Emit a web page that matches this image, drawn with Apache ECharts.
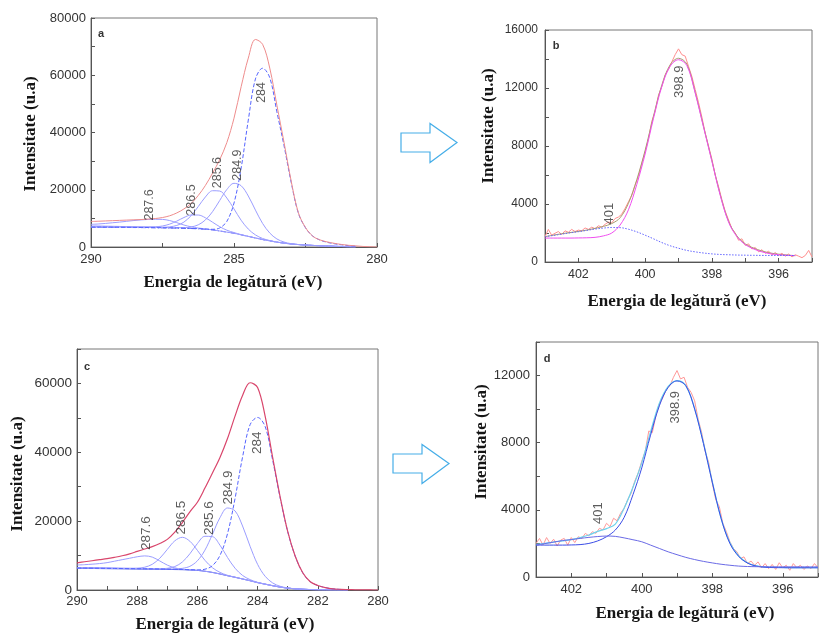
<!DOCTYPE html>
<html>
<head>
<meta charset="utf-8">
<script src="https://cdn.jsdelivr.net/npm/echarts@6/dist/echarts.min.js"></script>
<style>
html,body{margin:0;padding:0;background:#fff;}
#chart{width:821px;height:637px;}
</style>
</head>
<body>
<div id="chart"></div>
<script>
// ---------- C 1s panels (a, c): binding energy grid ----------
const carbonEnergy = [290,289.75,289.5,289.25,289,288.75,288.5,288.25,288,287.75,287.5,287.25,287,286.75,286.5,286.25,286,285.75,285.5,285.25,285,284.75,284.5,284.25,284,283.75,283.5,283.25,283,282.75,282.5,282.25,282,281.75,281.5,281.25,281,280.75,280.5,280.25,280];

// panel a
const aEnvelope = [8900,9000,9100,9200,9300,9400,9500,9600,9750,9950,10300,10900,11900,13300,15200,18000,21500,25800,30500,36500,45000,56000,66000,72500,70800,62500,49500,36500,23000,12000,6800,3800,2500,1800,1300,900,600,400,200,80,0];
const aBackground = [6900,6890,6880,6865,6850,6825,6800,6775,6750,6715,6680,6640,6600,6530,6450,6350,6200,5950,5600,5200,4800,4250,3700,3150,2600,2150,1700,1350,1050,850,700,550,450,350,250,170,100,50,null,null,null];
const aPeak284 = [6950,6940,6930,6915,6900,6875,6850,6825,6800,6765,6730,6690,6650,6580,6500,6410,6280,6180,6650,8950,15360,27600,44340,58710,62450,59150,47200,35350,22550,11850,6700,3850,2450,1650,1150,770,500,300,null,null,null];
const aPeak2849 = [7000,6990,6980,6965,6950,6925,6900,6875,6850,6815,6780,6740,6740,6750,6990,7750,9450,12350,16250,20090,22250,21400,17810,12885,8230,4880,2806,1727,1156,875,700,550,450,350,250,170,100,50,null,null,null];
const aPeak2856 = [7100,7090,7080,7065,7050,7025,7000,6975,6950,6935,6915,7040,7534,8710,10950,14130,17480,19660,19550,17100,13300,9340,6260,4225,2980,2262,1725,1350,1050,850,700,550,450,350,250,170,100,50,null,null,null];
const aPeak2865 = [7350,7320,7280,7235,7180,7115,7050,6995,7010,7060,7340,7990,9050,10300,11170,11170,10210,8660,7100,5870,5045,4324,3715,3150,2600,2150,1700,1350,1050,850,700,550,450,350,250,170,100,50,null,null,null];
const aPeak2876 = [7900,8040,8230,8465,8700,8975,9250,9475,9630,9695,9640,9240,8500,7680,7050,6630,6320,6000,5600,5200,4800,4250,3700,3150,2600,2150,1700,1350,1050,850,700,550,450,350,250,170,100,50,null,null,null];
const aPeakNames = ['287.6','286.5','285.6','284.9','284'];
const aPeakAnchors = [[287.97,14700],[286.47,16400],[285.58,26000],[284.86,28600],[284.04,54000]];

// panel c
const cEnvelope = [7900,8200,8500,8800,9100,9500,9950,10500,11200,11900,12600,13500,14700,16800,19600,22700,25500,29600,34000,38500,44000,50500,56500,60200,58800,50500,38500,27000,17000,9800,5000,2400,1300,700,350,200,120,60,30,10,0];
const cBackground = [6300,6275,6250,6225,6200,6175,6150,6125,6100,6075,6050,6015,5980,5940,5900,5820,5700,5450,5100,4650,4150,3700,3200,2700,2150,1700,1250,850,550,350,220,130,80,50,30,15,0,null,null,null,null];
const cPeak284 = [6380,6355,6330,6305,6280,6255,6230,6205,6180,6155,6130,6095,6060,6020,5980,5900,5850,6040,7070,10040,16350,26560,38590,48010,50110,47500,37700,26750,16950,9800,5000,2400,1300,700,350,165,60,null,null,null,null];
const cPeak2849 = [6400,6375,6350,6325,6300,6275,6250,6225,6200,6175,6150,6115,6080,6113,6290,6880,8480,11570,16180,21010,23820,22980,18590,12700,7450,3990,2050,1080,605,360,220,130,80,50,30,15,0,null,null,null,null];
const cPeak2856 = [6450,6425,6400,6375,6350,6325,6300,6275,6250,6225,6210,6190,6300,6810,8130,10520,13490,15600,15500,13020,9450,6340,4230,3018,2227,1700,1250,850,550,350,220,130,80,50,30,15,0,null,null,null,null];
const cPeak2865 = [6550,6515,6480,6440,6400,6355,6310,6300,6340,6619,7470,9215,11790,14280,15300,14160,11510,8630,6470,5114,4274,3726,3200,2700,2150,1700,1250,850,550,350,220,130,80,50,30,15,0,null,null,null,null];
const cPeak2876 = [7250,7355,7500,7675,7950,8375,8800,9225,9650,9905,9560,8435,7232,6427,6042,5851,5700,5450,5100,4650,4150,3700,3200,2700,2150,1700,1250,850,550,350,220,130,80,50,30,15,0,null,null,null,null];
const cPeakNames = ['287.6','286.5','285.6','284.9','284'];
const cPeakAnchors = [[287.7,16550],[286.53,21050],[285.6,20900],[284.98,29770],[284.02,42800]];

// ---------- N 1s panels (b, d) ----------
const nitrogenEnergy = [403,402.75,402.5,402.25,402,401.75,401.5,401.25,401,400.75,400.5,400.25,400,399.75,399.5,399.25,399,398.75,398.5,398.25,398,397.75,397.5,397.25,397,396.75,396.5,396.25,396,395.75,395.5,395.25,395];
const nitrogenRawEnergy = [403.0,402.9,402.8,402.7,402.6,402.5,402.4,402.3,402.2,402.1,402.0,401.9,401.8,401.7,401.6,401.5,401.4,401.3,401.2,401.1,401.0,400.9,400.8,400.7,400.6,400.5,400.4,400.3,400.2,400.1,400.0,399.9,399.8,399.7,399.6,399.5,399.4,399.3,399.2,399.1,399.0,398.9,398.8,398.7,398.6,398.5,398.4,398.3,398.2,398.1,398.0,397.9,397.8,397.7,397.6,397.5,397.4,397.3,397.2,397.1,397.0,396.9,396.8,396.7,396.6,396.5,396.4,396.3,396.2,396.1,396.0,395.9,395.8,395.7,395.6,395.5,395.4,395.3,395.2,395.1,395.0];

// panel b
const bRaw = [1750,2250,1850,1980,2100,1900,2150,2050,2250,2100,2200,2150,2350,2250,2400,2300,2500,2400,2600,2750,2700,3000,3100,3300,3700,4150,4600,5300,5900,6800,7600,8500,9700,10400,11500,12100,12900,13300,13800,14300,14700,14300,14200,13500,12800,11900,11000,10000,8900,8000,7100,6000,5200,4300,3500,2900,2300,2000,1500,1600,1150,1250,900,1000,700,850,600,750,500,650,450,600,400,550,350,500,400,300,450,800,350];
const bEnvelope = [1750,1850,1950,2030,2110,2200,2320,2455,2650,3050,4050,5680,7700,10050,12200,13600,14050,13650,11700,9350,7000,4650,2800,1800,1250,960,760,620,540,480,440,null,null];
const bPeak3989 = [1650,1650,1650,1650,1660,1670,1700,1800,2000,2550,3600,5350,7450,9900,12100,13500,13950,13550,11650,9300,6950,4600,2750,1750,1200,900,700,570,500,460,440,null,null];
const bPeak401 = [1750,1830,1920,2010,2090,2180,2270,2340,2380,2370,2260,2080,1850,1600,1340,1120,950,800,700,620,560,520,500,480,470,460,455,450,450,450,445,null,null];
const bPeakNames = ['401','398.9'];
const bPeakAnchors = [[401.08,3330],[398.98,12430]];

// panel d
const dRaw = [2000,2300,1900,2350,2000,2250,1850,2200,2300,1900,2350,2050,2400,2300,2600,2450,2700,2600,2900,2800,3200,3000,3500,3350,3800,4100,4600,5000,5700,6200,6900,7500,8700,8600,9600,10300,10700,11200,11400,11900,12300,11800,11900,11300,11000,10500,9400,8600,7500,6800,5600,4600,4200,3200,2700,2100,1700,1500,1100,1200,800,950,700,900,550,800,500,750,450,850,550,700,400,800,550,700,450,650,500,800,550];
const dEnvelope = [1950,2000,2080,2150,2230,2350,2500,2720,2880,3150,4100,5350,6800,8650,10350,11350,11700,11400,10050,8000,5700,3500,2050,1250,850,660,590,570,565,560,560,560,560];
const dPeak3989 = [1900,1900,1900,1900,1910,1930,2000,2150,2400,2800,3550,4900,6500,8450,10200,11300,11680,11400,10000,7950,5650,3500,2000,1230,830,650,580,560,555,550,550,550,550];
const dPeak401 = [1900,1990,2080,2170,2230,2300,2360,2410,2440,2420,2330,2220,2100,1900,1700,1500,1330,1170,1040,930,840,760,700,650,625,615,610,605,605,605,605,605,605];
const dPeakNames = ['398.9','401'];
const dPeakAnchors = [[399.04,10110],[401.24,3800]];

// axis texts
const yTitle = 'Intensitate (u.a)';
const xTitle = 'Energia de legătură (eV)';
const panelLetters = ['a','b','c','d'];

// ---------- helpers ----------
function zip(xs, ys) { return xs.map((x, i) => [x, ys[i]]); }

function xAx(gi, min, max, interval, every, fs, margin) {
  return {
    type: 'value', gridIndex: gi, min, max, interval, inverse: true,
    axisLine: { show: true, onZero: false, lineStyle: { color: '#555', width: 1 } },
    axisTick: { show: true, inside: true, length: 4, lineStyle: { color: '#555' } },
    axisLabel: {
      margin, fontSize: fs, color: '#333', fontFamily: 'Liberation Sans',
      formatter: v => (Math.abs(v / every - Math.round(v / every)) < 1e-6 ? String(v) : '')
    },
    splitLine: { show: false }
  };
}
function yAx(gi, min, max, interval, every, fs, margin) {
  return {
    type: 'value', gridIndex: gi, min, max, interval,
    axisLine: { show: true, onZero: false, lineStyle: { color: '#555', width: 1 } },
    axisTick: { show: true, inside: true, length: 4, lineStyle: { color: '#555' } },
    axisLabel: {
      margin, fontSize: fs, color: '#333', fontFamily: 'Liberation Sans',
      formatter: v => (Math.abs(v / every - Math.round(v / every)) < 1e-6 ? String(v) : '')
    },
    splitLine: { show: false }
  };
}
function curve(gi, xs, ys, color, opts) {
  opts = opts || {};
  return {
    type: 'line', xAxisIndex: gi, yAxisIndex: gi, data: zip(xs, ys),
    showSymbol: false, symbol: 'none', smooth: opts.smooth === undefined ? 0.35 : opts.smooth,
    connectNulls: false, silent: true, animation: false,
    lineStyle: { color, width: opts.width || 1, type: opts.type || 'solid', opacity: opts.opacity || 1 },
    z: opts.z || 2
  };
}
function labels(gi, names, anchors, fs) {
  return {
    type: 'scatter', xAxisIndex: gi, yAxisIndex: gi, symbolSize: 1, silent: true, animation: false,
    itemStyle: { color: 'rgba(0,0,0,0)' },
    data: names.map((n, i) => ({ name: n, value: anchors[i] })),
    label: { show: true, position: 'inside', formatter: '{b}', rotate: 90, fontSize: fs,
      color: '#333', fontFamily: 'Liberation Sans', align: 'center', verticalAlign: 'middle' },
    z: 10
  };
}

const compBlue = '#9b9dff';
const series = [
  // panel a
  curve(0, carbonEnergy, aBackground, '#4d55f0', { type: [5, 2, 1, 2] }),
  curve(0, carbonEnergy, aPeak2876, compBlue),
  curve(0, carbonEnergy, aPeak2865, compBlue),
  curve(0, carbonEnergy, aPeak2856, compBlue),
  curve(0, carbonEnergy, aPeak2849, compBlue),
  curve(0, carbonEnergy, aPeak284, '#5564ff', { type: [4, 2] }),
  curve(0, carbonEnergy, aEnvelope, '#ee8c8c', { z: 3 }),
  labels(0, aPeakNames, aPeakAnchors, 12.5),
  // panel b
  curve(1, nitrogenRawEnergy, bRaw, '#ff8f8f', { smooth: false }),
  curve(1, nitrogenEnergy, bEnvelope, '#a89c70', { z: 3 }),
  curve(1, nitrogenEnergy, bPeak3989, '#f04ef0', { z: 4 }),
  curve(1, nitrogenEnergy, bPeak401, '#6466ff', { type: [1.5, 1.5], z: 4 }),
  labels(1, bPeakNames, bPeakAnchors, 13),
  // panel c
  curve(2, carbonEnergy, cBackground, '#3a48e0'),
  curve(2, carbonEnergy, cPeak2876, compBlue),
  curve(2, carbonEnergy, cPeak2865, compBlue),
  curve(2, carbonEnergy, cPeak2856, compBlue),
  curve(2, carbonEnergy, cPeak2849, compBlue),
  curve(2, carbonEnergy, cPeak284, '#5564ff', { type: [4, 2] }),
  curve(2, carbonEnergy, cEnvelope, '#d9466c', { z: 3, width: 1.2 }),
  labels(2, cPeakNames, cPeakAnchors, 13.5),
  // panel d
  curve(3, nitrogenRawEnergy, dRaw, '#ff9898', { smooth: false }),
  curve(3, nitrogenEnergy, dEnvelope, '#6fd2ec', { z: 3, width: 1.2 }),
  curve(3, nitrogenEnergy, dPeak3989, '#3a4ce6', { z: 4 }),
  curve(3, nitrogenEnergy, dPeak401, '#6a6ae6', { z: 4 }),
  labels(3, dPeakNames, dPeakAnchors, 13)
];

const gridStyle = { show: true, borderColor: '#777', borderWidth: 1, backgroundColor: 'transparent' };

function titleText(x, y, text, vertical) {
  return {
    type: 'text', x, y, rotation: vertical ? Math.PI / 2 : 0, silent: true,
    style: { text, font: 'bold 17px "Liberation Serif"', fill: '#151515', textAlign: 'center', textVerticalAlign: 'middle' }
  };
}
function letter(x, y, text) {
  return { type: 'text', x, y, silent: true,
    style: { text, font: 'bold 11px "Liberation Sans"', fill: '#333', textAlign: 'center', textVerticalAlign: 'middle' } };
}
function arrow(x0, yc) {
  // outline arrow pointing right
  const pts = [[x0, yc - 9.5], [x0 + 29, yc - 9.5], [x0 + 29, yc - 19], [x0 + 56, yc], [x0 + 29, yc + 20], [x0 + 29, yc + 9.5], [x0, yc + 9.5]];
  return { type: 'polygon', silent: true, shape: { points: pts },
    style: { fill: '#fff', stroke: '#46aee8', lineWidth: 1.2 } };
}

const option = {
  backgroundColor: '#fff',
  animation: false,
  grid: [
    Object.assign({ left: 91, top: 18, width: 286, height: 229 }, gridStyle),
    Object.assign({ left: 545, top: 30, width: 267, height: 232 }, gridStyle),
    Object.assign({ left: 77, top: 349, width: 301, height: 241 }, gridStyle),
    Object.assign({ left: 536, top: 342, width: 296, height: 235 }, gridStyle)
  ],
  xAxis: [
    xAx(0, 280, 290, 2.5, 5, 13, 6),
    xAx(1, 395, 403, 1, 2, 12.5, 6),
    xAx(2, 280, 290, 1, 2, 13, 5),
    xAx(3, 395, 403, 1, 2, 13, 6)
  ],
  yAxis: [
    yAx(0, 0, 80000, 10000, 20000, 13, 5),
    yAx(1, 0, 16000, 2000, 4000, 12, 7),
    yAx(2, 0, 70000, 10000, 20000, 13.5, 5),
    yAx(3, 0, 14000, 2000, 4000, 13, 6)
  ],
  series,
  graphic: [
    titleText(31, 134, yTitle, true),
    titleText(233, 283, xTitle, false),
    titleText(489, 126, yTitle, true),
    titleText(677, 302, xTitle, false),
    titleText(18, 474, yTitle, true),
    titleText(225, 625, xTitle, false),
    titleText(482, 442, yTitle, true),
    titleText(685, 614, xTitle, false),
    letter(101, 34, panelLetters[0]),
    letter(556, 46, panelLetters[1]),
    letter(87, 367, panelLetters[2]),
    letter(547, 359, panelLetters[3]),
    arrow(401, 142.5),
    arrow(393, 463.5)
  ]
};

const chart = echarts.init(document.getElementById('chart'), null, { renderer: 'canvas' });
chart.setOption(option);
</script>
</body>
</html>
